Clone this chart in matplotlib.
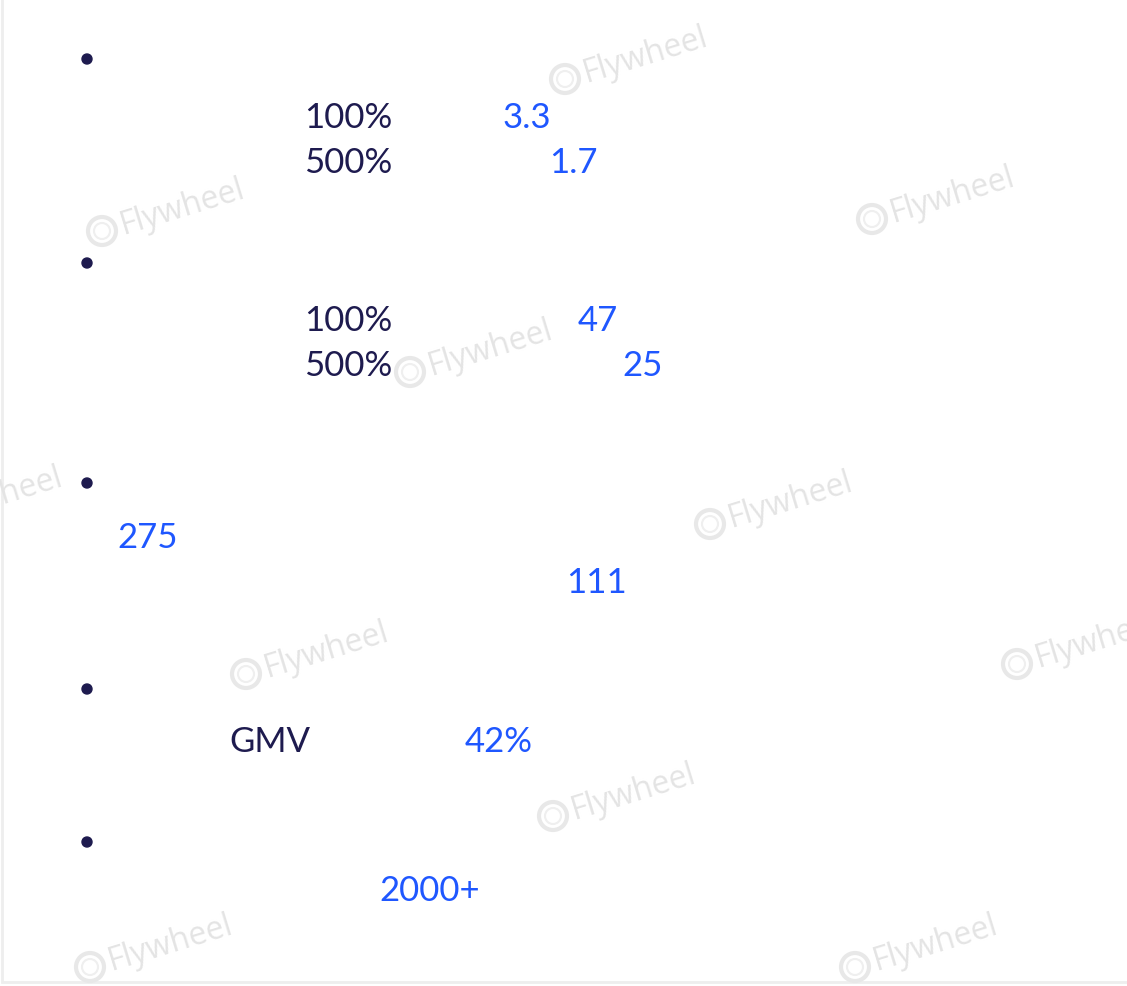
import matplotlib.pyplot as plt
from matplotlib.patches import Circle, Rectangle

# text pieces visible in the picture
label_texts = ["100%", "500%", "100%", "500%", "GMV"]
value_texts = ["3.3", "1.7", "47", "25", "275", "111", "42%", "2000+"]
watermark = "Flywheel"

# layout (pixel coords, y down)
bullet_y = [60, 264, 484, 690, 843]
label_pos = [(304, 118), (304, 163), (304, 321), (304, 366), (229, 742)]
value_pos = [(503, 118), (549, 163), (578, 321), (622, 366),
             (117, 538), (566, 583), (465, 742), (379, 891)]
mark_pos = [(565, 80), (102, 232), (872, 220), (410, 373), (-80, 520),
            (710, 525), (246, 675), (1017, 665), (553, 817), (90, 968), (855, 968)]

dark = "#1e1b4f"
blue = "#1f57ff"

plt.rcParams['font.family'] = ['Lato', 'DejaVu Sans']

fig = plt.figure(figsize=(11.27, 9.87), dpi=100)
ax = fig.add_axes([0, 0, 1, 1])
ax.set_xlim(0, 1127)
ax.set_ylim(987, 0)
ax.axis('off')

# faint page border
ax.add_patch(Rectangle((2, -5), 1130, 988, fill=False, edgecolor="#eeeeee", lw=2))

# watermarks
for x, y in mark_pos:
    ax.add_patch(Circle((x, y), 14, fill=False, edgecolor="#e8e8e8", lw=3, zorder=1))
    ax.add_patch(Circle((x, y), 8, fill=False, edgecolor="#efefef", lw=1.5, zorder=1))
    ax.text(x + 22, y + 2, watermark, rotation=17, rotation_mode='anchor',
            ha='left', va='baseline', fontsize=23, color="#e4e4e4",
            family='Open Sans', zorder=1)

for y in bullet_y:
    ax.add_patch(Circle((87, y), 5, color=dark, zorder=3))

for (x, y), t in zip(label_pos, label_texts):
    ax.text(x, y, t, ha='left', va='center', fontsize=25, color=dark, zorder=3)

for (x, y), t in zip(value_pos, value_texts):
    ax.text(x, y, t, ha='left', va='center', fontsize=25, color=blue, zorder=3)

fig.savefig("out.png", dpi=100, facecolor="white")
